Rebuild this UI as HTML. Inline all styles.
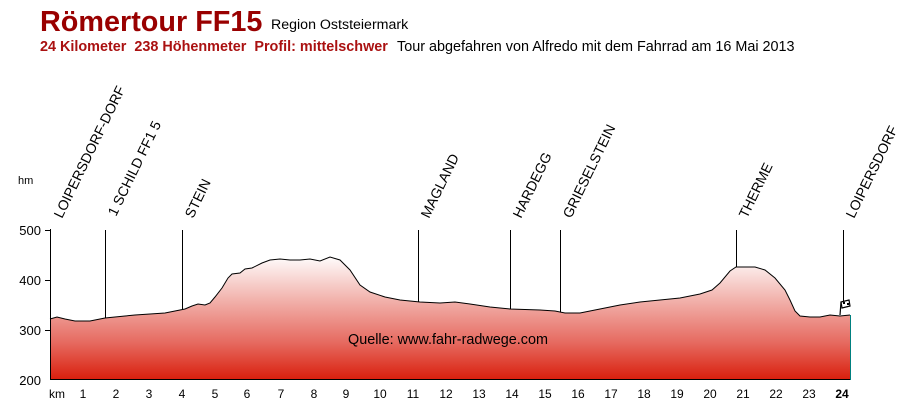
<!DOCTYPE html>
<html><head><meta charset="utf-8"><style>
body{margin:0;background:#fff;}
svg{display:block;font-family:"Liberation Sans",Arial,sans-serif;}
</style></head><body>
<svg width="900" height="403" viewBox="0 0 900 403" xmlns="http://www.w3.org/2000/svg">
<defs>
<linearGradient id="g" x1="0" y1="255" x2="0" y2="380" gradientUnits="userSpaceOnUse">
<stop offset="0" stop-color="#ffffff"/>
<stop offset="0.35" stop-color="#f2b4ae"/>
<stop offset="0.7" stop-color="#e66a60"/>
<stop offset="1" stop-color="#d91e0c"/>
</linearGradient>
</defs>
<text x="40" y="31" font-size="28.8" font-weight="bold" fill="#990000">Römertour FF15</text>
<text x="271" y="29" font-size="14.2" fill="#000">Region Oststeiermark</text>
<text x="40" y="51" font-size="14.4" font-weight="bold" fill="#aa1111" xml:space="preserve">24 Kilometer  238 Höhenmeter  Profil: mittelschwer</text>
<text x="397" y="51" font-size="14.4" fill="#000">Tour abgefahren von Alfredo mit dem Fahrrad am 16 Mai 2013</text>

<text x="18" y="184" font-size="11" fill="#000">hm</text>
<g font-size="13" fill="#000" text-anchor="end">
<text x="41" y="235">500</text><text x="41" y="285">400</text><text x="41" y="335">300</text><text x="41" y="385">200</text>
</g>

<path d="M50,380 L50,319 57,317 65,319 75,321 90,321 100,319 105,318 115,317 125,316 135,315 150,314 165,313 175,311 185,309 192,306 198,304 205,305 210,303 215,297 222,288 228,278 232,274 240,273 245,269 252,268 262,263 270,260 280,259 290,260 300,260 310,259 320,261 330,257 340,260 350,270 360,285 370,292 385,297 400,300 420,302 440,303 455,302 470,304 490,307 510,309 540,310 555,311 565,313 580,313 600,309 620,305 640,302 660,300 680,298 700,294 712,290 720,283 730,271 736,267 755,267 765,270 775,278 785,290 790,300 795,311 800,316 810,317 820,317 830,315 840,316 850,315 L850,380 Z" fill="url(#g)"/>
<path d="M50,319 57,317 65,319 75,321 90,321 100,319 105,318 115,317 125,316 135,315 150,314 165,313 175,311 185,309 192,306 198,304 205,305 210,303 215,297 222,288 228,278 232,274 240,273 245,269 252,268 262,263 270,260 280,259 290,260 300,260 310,259 320,261 330,257 340,260 350,270 360,285 370,292 385,297 400,300 420,302 440,303 455,302 470,304 490,307 510,309 540,310 555,311 565,313 580,313 600,309 620,305 640,302 660,300 680,298 700,294 712,290 720,283 730,271 736,267 755,267 765,270 775,278 785,290 790,300 795,311 800,316 810,317 820,317 830,315 840,316 850,315" fill="none" stroke="#000" stroke-width="1"/>
<line x1="850.5" y1="315" x2="850.5" y2="380" stroke="#008080"/>

<g stroke="#000" stroke-width="1">
<line x1="50.5" y1="229" x2="50.5" y2="380"/>
<line x1="45" y1="230.5" x2="50" y2="230.5"/><line x1="45" y1="280.5" x2="50" y2="280.5"/><line x1="45" y1="330.5" x2="50" y2="330.5"/>
<line x1="50" y1="379.5" x2="850" y2="379.5"/>
<line x1="105.5" y1="230" x2="105.5" y2="318"/>
<line x1="182.5" y1="230" x2="182.5" y2="310"/>
<line x1="418.5" y1="230" x2="418.5" y2="302"/>
<line x1="510.5" y1="230" x2="510.5" y2="309"/>
<line x1="560.5" y1="230" x2="560.5" y2="312"/>
<line x1="736.5" y1="230" x2="736.5" y2="267"/>
<line x1="843.5" y1="230" x2="843.5" y2="305"/>
</g>
<g stroke="#000" stroke-width="1.2" fill="#fff">
<line x1="840" y1="315" x2="841" y2="302"/>
<path d="M841,302 l8,-2 l1,6 l-8,2 z"/>
<path d="M843,302 h2 v2 h-2z M847,303 h2 v2 h-2z" fill="#000" stroke="none"/>
</g>

<g font-size="12" fill="#000" text-anchor="middle">
<text x="57" y="398">km</text>
<text x="83" y="398">1</text><text x="116" y="398">2</text><text x="149" y="398">3</text><text x="182" y="398">4</text><text x="215" y="398">5</text><text x="247" y="398">6</text><text x="281" y="398">7</text><text x="314" y="398">8</text><text x="346" y="398">9</text><text x="380" y="398">10</text><text x="413" y="398">11</text><text x="446" y="398">12</text><text x="479" y="398">13</text><text x="512" y="398">14</text><text x="545" y="398">15</text><text x="578" y="398">16</text><text x="611" y="398">17</text><text x="644" y="398">18</text><text x="677" y="398">19</text><text x="710" y="398">20</text><text x="743" y="398">21</text><text x="776" y="398">22</text><text x="809" y="398">23</text><text x="842" y="398" font-weight="bold">24</text>
</g>

<g font-size="14" fill="#000">
<text transform="translate(62,219) rotate(-64)">LOIPERSDORF-DORF</text>
<text transform="translate(116,217) rotate(-64)">1 SCHILD FF1 5</text>
<text transform="translate(193,219) rotate(-64)">STEIN</text>
<text transform="translate(429,219) rotate(-64)">MAGLAND</text>
<text transform="translate(521,219) rotate(-64)">HARDEGG</text>
<text transform="translate(571,219) rotate(-64)">GRIESELSTEIN</text>
<text transform="translate(747,219) rotate(-64)">THERME</text>
<text transform="translate(854,219) rotate(-64)">LOIPERSDORF</text>
</g>

<text x="448" y="344" font-size="14.4" fill="#000" text-anchor="middle">Quelle: www.fahr-radwege.com</text>
</svg>
</body></html>
